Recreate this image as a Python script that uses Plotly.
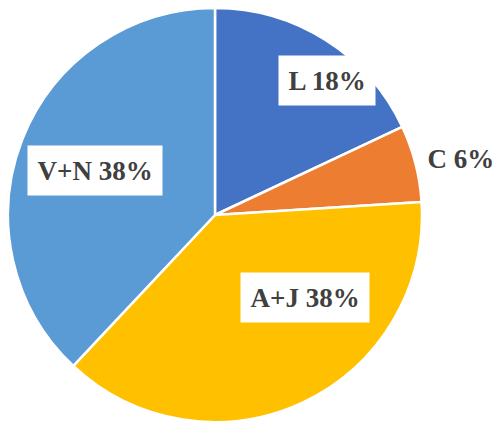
import plotly.graph_objects as go

categories = ["L", "C", "A+J", "V+N"]
values = [18, 6, 38, 38]
colors = ["#4472C4", "#ED7D31", "#FFC000", "#5B9BD5"]
# label centres in window pixels (annotation placement)
label_px = [(327, 80), (461, 158), (305, 297), (95, 171)]
label_box = [True, False, True, True]

OFF = 8  # default page body margin
W, H = 501 - OFF, 429 - OFF
fig = go.Figure(go.Pie(
    labels=categories,
    values=values,
    sort=False,
    direction="clockwise",
    rotation=0,
    marker=dict(colors=colors, line=dict(color="white", width=2.5)),
    textinfo="none",
    hoverinfo="label+percent",
    domain=dict(x=[0, 414 / W], y=[1 - 414 / H, 1]),
    showlegend=False,
))

total = sum(values)
for cat, v, (px, py), box in zip(categories, values, label_px, label_box):
    fig.add_annotation(
        x=(px - OFF) / W, y=1 - (py - OFF) / H, xref="paper", yref="paper",
        text=f"<b>{cat} {round(100 * v / total)}%</b>",
        showarrow=False,
        font=dict(family="Liberation Serif", size=27, color="#404040"),
        bgcolor="white" if box else "rgba(0,0,0,0)",
        borderpad=9.5,
        xanchor="center", yanchor="middle",
    )

fig.update_layout(
    width=W, height=H,
    margin=dict(l=0, r=0, t=0, b=0),
    paper_bgcolor="white",
    plot_bgcolor="white",
)
fig.write_html("out.html")
